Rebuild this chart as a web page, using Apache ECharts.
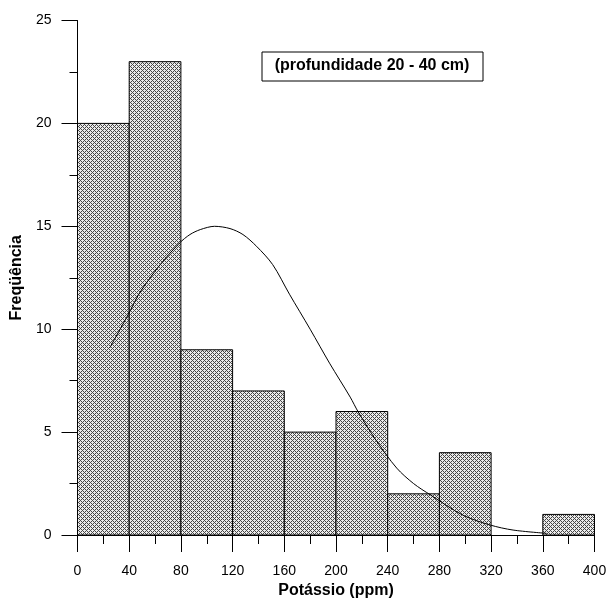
<!DOCTYPE html>
<html>
<head>
<meta charset="utf-8">
<script src="https://cdn.jsdelivr.net/npm/echarts@6/dist/echarts.min.js"></script>
<style>
html,body{margin:0;padding:0;background:#fff;}
#chart{width:607px;height:598px;}
</style>
</head>
<body>
<div id="chart"></div>
<script>
// Histogram bins (ppm) and frequencies
var binStarts = [0, 40, 80, 120, 160, 200, 240, 280, 320, 360];
var binEnds   = [40, 80, 120, 160, 200, 240, 280, 320, 360, 400];
var freqs     = [20, 23, 9, 7, 5, 6, 2, 4, 0, 1];
// Fitted curve points
var curveX = [25, 40, 48, 64, 79, 87, 95, 106, 118, 128, 138.5, 151, 164, 180, 195, 211, 217, 231, 247, 260, 273, 298, 319, 337, 363];
var curveY = [9.1, 10.8, 11.76, 13.14, 14.19, 14.6, 14.84, 15.0, 14.89, 14.6, 14.03, 13.14, 11.7, 10.0, 8.35, 6.7, 6.0, 4.6, 3.25, 2.5, 1.95, 0.97, 0.49, 0.24, 0.08];
var xTicks = [0, 40, 80, 120, 160, 200, 240, 280, 320, 360, 400];
var yTicks = [0, 5, 10, 15, 20, 25];
var titleText = '(profundidade 20 - 40 cm)';

var FONT = "'Liberation Sans', Arial, sans-serif";

// cross-hatch pattern
var pc = document.createElement('canvas');
pc.width = 4; pc.height = 4;
var pctx = pc.getContext('2d');
var img = pctx.createImageData(4, 4);
for (var yy = 0; yy < 4; yy++) {
  for (var xx = 0; xx < 4; xx++) {
    var dark = ((xx + yy) % 4 === 0) || ((xx - yy + 4) % 4 === 0);
    var c = dark ? 70 : 235;
    var i = (yy * 4 + xx) * 4;
    img.data[i] = c; img.data[i+1] = c; img.data[i+2] = c; img.data[i+3] = 255;
  }
}
pctx.putImageData(img, 0, 0);
var pattern = { image: pc, repeat: 'repeat' };

var barData = binStarts.map(function (s, i) { return [s, binEnds[i], freqs[i]]; });
var curveData = curveX.map(function (x, i) { return [x, curveY[i]]; });

var chart = echarts.init(document.getElementById('chart'), null, { renderer: 'canvas' });
chart.setOption({
  animation: false,
  backgroundColor: '#fff',
  grid: { left: 77.5, right: 12.5, top: 20.5, bottom: 63, containLabel: false, outerBoundsMode: 'none' },
  xAxis: {
    type: 'value', min: 0, max: 400, interval: 40,
    name: 'Potássio (ppm)', nameLocation: 'middle', nameGap: 44,
    nameTextStyle: { fontFamily: FONT, fontWeight: 'bold', fontSize: 16, color: '#000' },
    axisLine: { show: true, lineStyle: { color: '#000', width: 1 } },
    axisTick: { show: true, length: 17, lineStyle: { color: '#000' } },
    minorTick: { show: true, splitNumber: 2, length: 9, lineStyle: { color: '#000' } },
    splitLine: { show: false },
    axisLabel: { margin: 29, fontFamily: FONT, fontSize: 14, color: '#000', hideOverlap: false,
      formatter: function (v) { return xTicks.indexOf(v) >= 0 ? String(v) : ''; } }
  },
  yAxis: {
    type: 'value', min: 0, max: 25, interval: 5,
    name: 'Freqüência', nameLocation: 'middle', nameGap: 52,
    nameTextStyle: { fontFamily: FONT, fontWeight: 'bold', fontSize: 16, color: '#000' },
    axisLine: { show: true, lineStyle: { color: '#000', width: 1 } },
    axisTick: { show: true, length: 16, lineStyle: { color: '#000' } },
    minorTick: { show: true, splitNumber: 2, length: 8, lineStyle: { color: '#000' } },
    splitLine: { show: false },
    axisLabel: { margin: 26, fontFamily: FONT, fontSize: 14, color: '#000',
      formatter: function (v) { return yTicks.indexOf(v) >= 0 ? String(v) : ''; } }
  },
  series: [
    {
      type: 'custom',
      data: barData,
      encode: { x: [0, 1], y: 2 },
      renderItem: function (params, api) {
        var v = api.value(2);
        if (!v) return null;
        var p0 = api.coord([api.value(0), v]);
        var p1 = api.coord([api.value(1), 0]);
        return {
          type: 'rect',
          shape: { x: p0[0], y: p0[1], width: p1[0] - p0[0], height: p1[1] - p0[1] },
          style: { fill: pattern, stroke: '#000', lineWidth: 1 }
        };
      },
      z: 2
    },
    {
      type: 'line',
      data: curveData,
      smooth: 0.3,
      showSymbol: false,
      symbol: 'none',
      lineStyle: { color: '#000', width: 1 },
      z: 3
    }
  ],
  graphic: [
    {
      type: 'rect', left: 261.5, top: 51.5, z: 10,
      shape: { width: 221, height: 29 },
      style: { fill: '#fff', stroke: '#000', lineWidth: 1 }
    },
    {
      type: 'text', z: 11, x: 372, y: 66,
      style: { text: titleText, fontFamily: FONT, fontWeight: 'bold', fontSize: 16,
        fill: '#000', align: 'center', verticalAlign: 'middle' }
    }
  ]
});
</script>
</body>
</html>
